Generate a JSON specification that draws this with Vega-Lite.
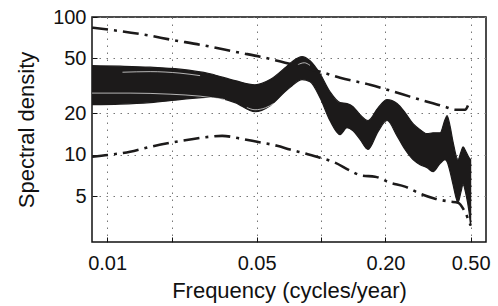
{
  "$schema": "https://vega.github.io/schema/vega-lite/v6.json",
  "width": 394,
  "height": 225,
  "autosize": {"type": "none"},
  "padding": {"left": 92, "top": 17, "right": 12, "bottom": 64},
  "background": "white",
  "config": {
    "view": {"stroke": "#111", "strokeWidth": 1.5},
    "font": "Liberation Sans",
    "axis": {
      "domain": false,
      "grid": true,
      "gridColor": "#777777",
      "gridDash": [1.5, 5.5],
      "gridWidth": 1,
      "tickColor": "#111",
      "tickSize": -5,
      "tickWidth": 1,
      "labelFlush": false,
      "labelColor": "#111",
      "labelFont": "Liberation Sans",
      "labelFontSize": 20,
      "titleColor": "#111",
      "titleFont": "Liberation Sans",
      "titleFontSize": 22,
      "titleFontWeight": "normal"
    }
  },
  "datasets": {
    "band": [
      {"f": 0.00851, "hi": 44.3, "lo": 23.1},
      {"f": 0.0115, "hi": 43.9, "lo": 23.3},
      {"f": 0.0159, "hi": 43.2, "lo": 23.9},
      {"f": 0.0219, "hi": 41.8, "lo": 25.1},
      {"f": 0.0303, "hi": 38.7, "lo": 26.2},
      {"f": 0.0396, "hi": 34.5, "lo": 23.9},
      {"f": 0.0491, "hi": 32.2, "lo": 20.5},
      {"f": 0.0578, "hi": 35.1, "lo": 22.7},
      {"f": 0.0679, "hi": 42.8, "lo": 28.7},
      {"f": 0.0732, "hi": 47.4, "lo": 31.7},
      {"f": 0.0815, "hi": 51.5, "lo": 35.1},
      {"f": 0.0888, "hi": 48.1, "lo": 33.9},
      {"f": 0.0989, "hi": 38.7, "lo": 25.9},
      {"f": 0.110, "hi": 28.7, "lo": 17.7},
      {"f": 0.1227, "hi": 23.9, "lo": 14.0},
      {"f": 0.1322, "hi": 23.5, "lo": 15.7},
      {"f": 0.1411, "hi": 22.3, "lo": 14.9},
      {"f": 0.1521, "hi": 19.5, "lo": 12.9},
      {"f": 0.1658, "hi": 17.7, "lo": 10.9},
      {"f": 0.1846, "hi": 21.9, "lo": 14.7},
      {"f": 0.2035, "hi": 25.1, "lo": 17.7},
      {"f": 0.2265, "hi": 23.5, "lo": 13.7},
      {"f": 0.2469, "hi": 20.2, "lo": 10.9},
      {"f": 0.2691, "hi": 16.8, "lo": 9.2},
      {"f": 0.2902, "hi": 15.2, "lo": 8.46},
      {"f": 0.3129, "hi": 14.2, "lo": 8.04},
      {"f": 0.3337, "hi": 14.4, "lo": 7.53},
      {"f": 0.3598, "hi": 14.4, "lo": 8.61},
      {"f": 0.3797, "hi": 18.0, "lo": 9.2},
      {"f": 0.388, "hi": 19.2, "lo": 8.9},
      {"f": 0.4006, "hi": 16.2, "lo": 7.53},
      {"f": 0.4138, "hi": 12.4, "lo": 6.06},
      {"f": 0.4366, "hi": 9.2, "lo": 4.48},
      {"f": 0.451, "hi": 10.5, "lo": 5.39},
      {"f": 0.4608, "hi": 11.4, "lo": 6.06},
      {"f": 0.4759, "hi": 10.5, "lo": 5.12},
      {"f": 0.4914, "hi": 9.51, "lo": 3.86},
      {"f": 0.5, "hi": 9.2, "lo": 3.05}
    ],
    "gaps": [
      {"g": "a", "f": 0.00851, "v": 28.0},
      {"g": "a", "f": 0.0128, "v": 28.0},
      {"g": "a", "f": 0.0197, "v": 27.5},
      {"g": "a", "f": 0.0272, "v": 26.6},
      {"g": "a", "f": 0.0356, "v": 25.1},
      {"g": "b", "f": 0.0118, "v": 39.7},
      {"g": "b", "f": 0.0159, "v": 40.1},
      {"g": "b", "f": 0.0219, "v": 39.1},
      {"g": "b", "f": 0.0272, "v": 37.5},
      {"g": "c", "f": 0.045, "v": 22.0},
      {"g": "c", "f": 0.0491, "v": 21.2},
      {"g": "c", "f": 0.055, "v": 21.9},
      {"g": "c", "f": 0.06, "v": 23.5},
      {"g": "d", "f": 0.0778, "v": 45.0},
      {"g": "d", "f": 0.0835, "v": 46.5},
      {"g": "d", "f": 0.0888, "v": 44.5}
    ],
    "bounds": [
      {"b": "upper", "f": 0.00851, "v": 83.6},
      {"b": "upper", "f": 0.0115, "v": 79.0},
      {"b": "upper", "f": 0.0159, "v": 73.1},
      {"b": "upper", "f": 0.0199, "v": 68.4},
      {"b": "upper", "f": 0.0272, "v": 62.9},
      {"b": "upper", "f": 0.0418, "v": 55.0},
      {"b": "upper", "f": 0.0519, "v": 51.5},
      {"b": "upper", "f": 0.0679, "v": 46.6},
      {"b": "upper", "f": 0.0989, "v": 40.1},
      {"b": "upper", "f": 0.1227, "v": 36.2},
      {"b": "upper", "f": 0.1694, "v": 32.2},
      {"b": "upper", "f": 0.2101, "v": 29.2},
      {"b": "upper", "f": 0.2606, "v": 26.4},
      {"b": "upper", "f": 0.3231, "v": 23.9},
      {"b": "upper", "f": 0.3797, "v": 22.3},
      {"b": "upper", "f": 0.4228, "v": 21.2},
      {"b": "upper", "f": 0.4708, "v": 21.2},
      {"b": "upper", "f": 0.4968, "v": 25.1},
      {"b": "lower", "f": 0.00851, "v": 9.67},
      {"b": "lower", "f": 0.01033, "v": 10.0},
      {"b": "lower", "f": 0.01281, "v": 10.5},
      {"b": "lower", "f": 0.0159, "v": 11.4},
      {"b": "lower", "f": 0.0197, "v": 12.2},
      {"b": "lower", "f": 0.0244, "v": 12.9},
      {"b": "lower", "f": 0.0303, "v": 13.5},
      {"b": "lower", "f": 0.0345, "v": 13.7},
      {"b": "lower", "f": 0.0418, "v": 13.1},
      {"b": "lower", "f": 0.0502, "v": 12.4},
      {"b": "lower", "f": 0.0623, "v": 11.6},
      {"b": "lower", "f": 0.0716, "v": 10.9},
      {"b": "lower", "f": 0.0842, "v": 10.2},
      {"b": "lower", "f": 0.0989, "v": 9.51},
      {"b": "lower", "f": 0.1162, "v": 8.75},
      {"b": "lower", "f": 0.1366, "v": 7.65},
      {"b": "lower", "f": 0.1554, "v": 7.04},
      {"b": "lower", "f": 0.1788, "v": 6.92},
      {"b": "lower", "f": 0.2101, "v": 6.26},
      {"b": "lower", "f": 0.2469, "v": 5.86},
      {"b": "lower", "f": 0.2902, "v": 5.21},
      {"b": "lower", "f": 0.3409, "v": 4.79},
      {"b": "lower", "f": 0.4006, "v": 4.56},
      {"b": "lower", "f": 0.4366, "v": 4.48},
      {"b": "lower", "f": 0.4659, "v": 3.95},
      {"b": "lower", "f": 0.5, "v": 3.05}
    ]
  },
  "layer": [
    {
      "data": {"name": "band"},
      "mark": {"type": "area", "color": "#1c1a1a", "interpolate": "monotone", "stroke": "#1c1a1a", "strokeWidth": 1.2, "clip": true},
      "encoding": {
        "x": {
          "field": "f", "type": "quantitative",
          "scale": {"type": "log", "domain": [0.0085, 0.59], "nice": false},
          "axis": {
            "values": [0.01, 0.02, 0.05, 0.1, 0.2, 0.5],
            "labelExpr": "datum.value == 0.02 || datum.value == 0.1 ? '' : format(datum.value, '.2f')",
            "labelFlush": false,
            "labelAlign": "center",
            "labelPadding": 16,
            "title": "Frequency (cycles/year)",
            "titlePadding": 7
          }
        },
        "y": {
          "field": "hi", "type": "quantitative",
          "scale": {"type": "log", "domain": [2.32, 100], "nice": false},
          "axis": {
            "values": [5, 10, 20, 50, 100],
            "format": "d",
            "labelFlush": false,
            "labelPadding": 11,
            "title": "Spectral density",
            "titlePadding": 14
          }
        },
        "y2": {"field": "lo"}
      }
    },
    {
      "data": {"name": "gaps"},
      "mark": {"type": "line", "color": "white", "strokeWidth": 0.8, "opacity": 0.85, "interpolate": "monotone", "clip": true},
      "encoding": {
        "x": {"field": "f", "type": "quantitative"},
        "y": {"field": "v", "type": "quantitative"},
        "detail": {"field": "g"}
      }
    },
    {
      "data": {"name": "bounds"},
      "mark": {"type": "line", "color": "#1c1a1a", "strokeWidth": 2.6, "strokeDash": [16, 6, 3, 6], "interpolate": "monotone", "clip": true},
      "encoding": {
        "x": {"field": "f", "type": "quantitative"},
        "y": {"field": "v", "type": "quantitative"},
        "detail": {"field": "b"}
      }
    }
  ]
}
